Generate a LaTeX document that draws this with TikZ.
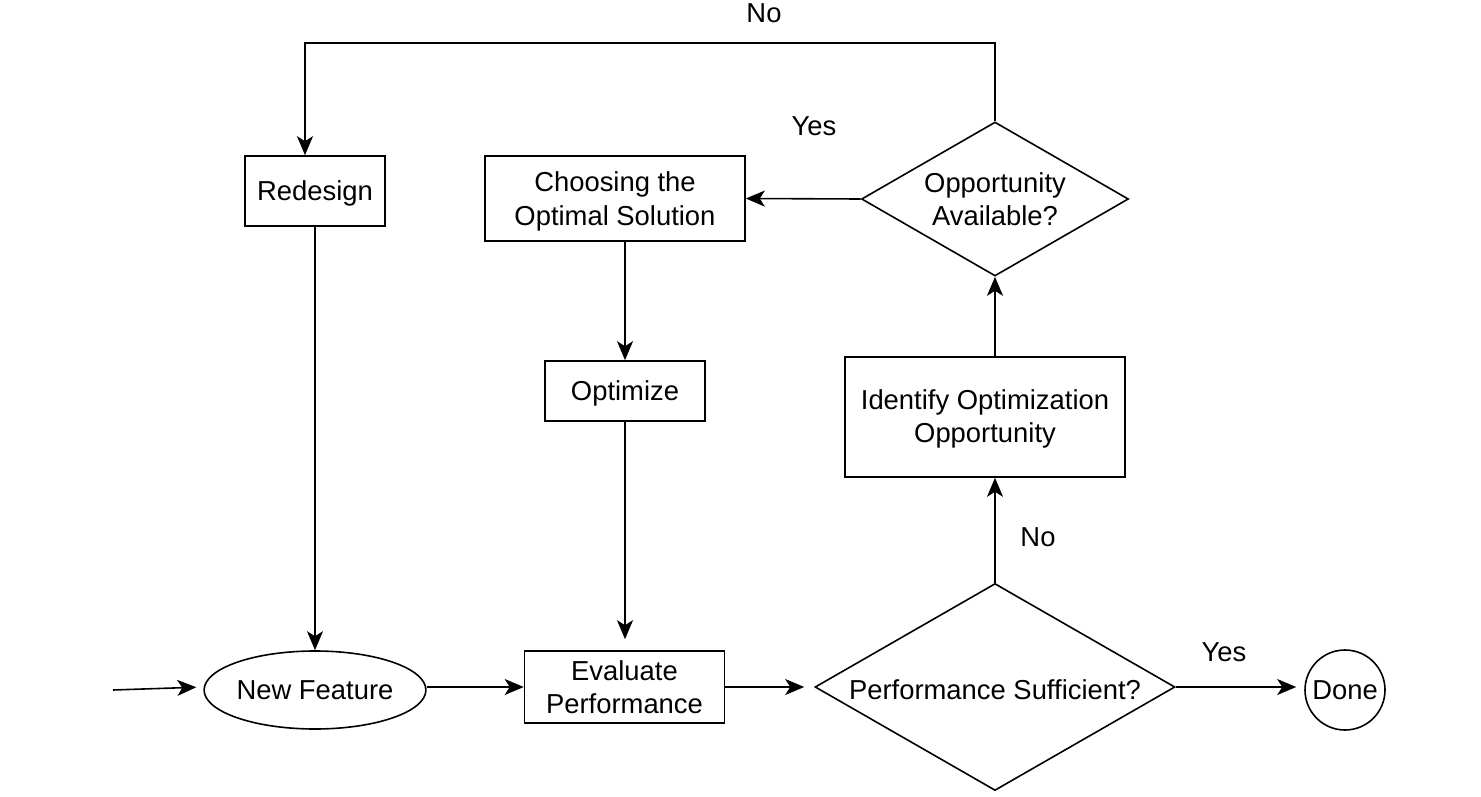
\documentclass[tikz,border=0pt]{standalone}
\usepackage{fontspec}
\setmainfont{Liberation Sans}
\usetikzlibrary{shapes.geometric,arrows.meta}
\newcommand\tupa{\rule{0pt}{24pt}}
\newcommand\tupb{\rule{0pt}{26pt}}
\begin{document}
\begin{tikzpicture}[x=1pt,y=-1pt,
  every node/.style={font=\fontsize{27.4}{33.5}\selectfont, align=center, inner sep=0pt},
  box/.style={draw, line width=1.6pt},
  dia/.style={draw, diamond, line width=1.6pt},
  arr/.style={line width=1.6pt, -{Stealth[length=19pt,width=16pt,inset=5pt]}}]
\useasboundingbox (0,0) rectangle (1481,797);
\node[box, ellipse, minimum width=220pt, minimum height=78pt] (nf) at (315,690) {New Feature};
\node[box, minimum width=200pt, minimum height=72pt] (ev) at (624.5,687) {Evaluate\\Performance};
\node[dia, aspect=1.74, minimum width=360pt, minimum height=207pt] (ps) at (995,687) {\tupb Performance Sufficient?};
\node[box, circle, minimum size=80pt] (dn) at (1345,690) {Done};
\node[box, minimum width=280pt, minimum height=120pt] (id) at (985,417) {\tupa Identify Optimization\\Opportunity};
\node[dia, aspect=1.73, minimum width=267pt, minimum height=154pt] (op) at (995,199) {Opportunity\\Available?};
\node[box, minimum width=260pt, minimum height=85pt] (ch) at (615,198.5) {\tupb Choosing the\\Optimal Solution};
\node[box, minimum width=160pt, minimum height=60pt] (opt) at (625,391) {\tupa Optimize};
\node[box, minimum width=140pt, minimum height=70pt] (rd) at (315,191) {\tupa Redesign};
\node (l1) at (764,13) {No};
\node (l2) at (814,126) {Yes};
\node (l3) at (1038,537) {No};
\node (l4) at (1224,652) {Yes};
\coordinate (start) at (113,690);
\coordinate (tr) at (995,43);
\draw[arr, shorten >=7pt] (start) -- ([yshift=3pt]nf.west);
\draw[arr] (ev.west -| nf.east) -- (ev.west);
\draw[arr, shorten >=10pt] (ev.east) -- (ps.west);
\draw[arr, shorten >=8pt] (ps.east) -- ([yshift=3pt]dn.west);
\draw[arr] (ps.north) -- (ps.north |- id.south);
\draw[arr] (op.south |- id.north) -- (op.south);
\draw[arr] (op.west) -- (ch.east);
\draw[arr] (ch.south -| opt.north) -- (opt.north);
\draw[arr, shorten >=11pt] (opt.south) -- (opt.south |- ev.north);
\draw[arr] (op.north) -- (tr) -| ([xshift=-10pt]rd.north);
\draw[arr] (rd.south) -- (nf.north);
\end{tikzpicture}
\end{document}
